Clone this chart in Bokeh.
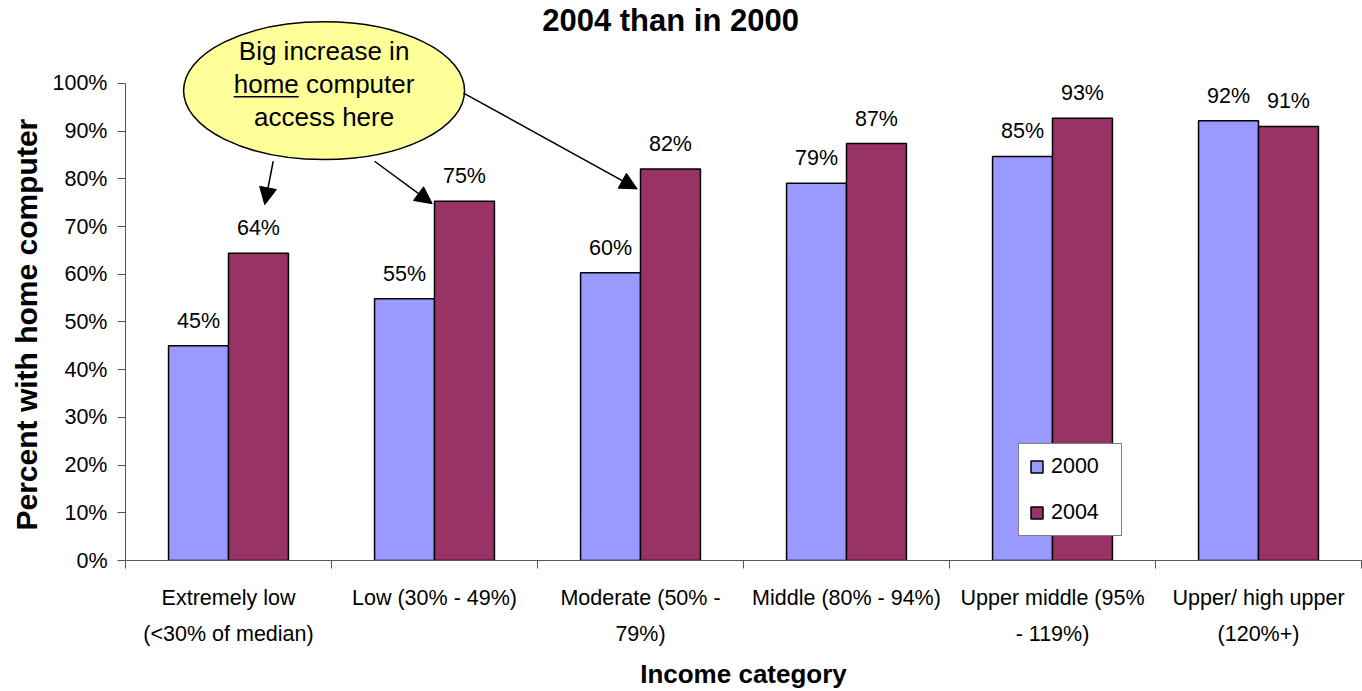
import numpy as np
from bokeh.plotting import figure
from bokeh.models import (Range1d, FixedTicker, PrintfTickFormatter, ColumnDataSource,
                          LabelSet, Label, Arrow, NormalHead, Legend, LegendItem, Title)
from bokeh.core.properties import value
from bokeh.embed import file_html
from bokeh.resources import INLINE

# ---------------- data ----------------
categories = ["Extremely low\n(<30% of median)", "Low (30% - 49%)", "Moderate (50% -\n79%)",
              "Middle (80% - 94%)", "Upper middle (95%\n- 119%)", "Upper/ high upper\n(120%+)"]
years = ["2000", "2004"]
pct_2000 = [45.0, 54.9, 60.3, 79.1, 84.7, 92.2]
pct_2004 = [64.4, 75.3, 82.1, 87.4, 92.7, 91.0]
y_ticks = [0, 10, 20, 30, 40, 50, 60, 70, 80, 90, 100]
title_text = "2004 than in 2000"
x_title = "Income category"
y_title = "Percent with home computer"
callout_lines = ["Big increase in", "home computer", "access here"]

# ---------------- style / layout ----------------
FONT = "Liberation Sans"
C2000 = "#9999FF"
C2004 = "#993366"
BAR_W = 0.291
AXIS_COLOR = "#555555"

n = len(categories)
centers = np.arange(n) + 0.5

src2000 = ColumnDataSource(dict(x=centers - BAR_W / 2, top=pct_2000,
                                label=[f"{round(v)}%" for v in pct_2000]))
src2004 = ColumnDataSource(dict(x=centers + BAR_W / 2, top=pct_2004,
                                label=[f"{round(v)}%" for v in pct_2004]))

p = figure(width=1362, height=691, x_range=Range1d(0, n), y_range=Range1d(0, 117.4),
           output_backend="svg", toolbar_location=None,
           min_border_left=125, min_border_right=1, min_border_top=0, min_border_bottom=131)
p.outline_line_color = None
p.xgrid.visible = False
p.ygrid.visible = False
p.background_fill_color = "white"

r0 = p.vbar(x="x", top="top", width=BAR_W, source=src2000, fill_color=C2000,
            line_color="black", line_width=1.5)
r1 = p.vbar(x="x", top="top", width=BAR_W, source=src2004, fill_color=C2004,
            line_color="black", line_width=1.5)

for src in (src2000, src2004):
    p.add_layout(LabelSet(x="x", y="top", text="label", source=src, text_align="center",
                          text_baseline="alphabetic", y_offset=18,
                          text_font=value(FONT), text_font_size="21.5px", text_color="black"))

# x axis
xa = p.xaxis[0]
xa.ticker = FixedTicker(ticks=list(centers), minor_ticks=list(np.arange(n + 1)))
xa.major_label_overrides = {float(c): lab for c, lab in zip(centers, categories)}
xa.major_tick_line_color = None
xa.minor_tick_out = 8
xa.minor_tick_in = 0
xa.minor_tick_line_color = AXIS_COLOR
xa.axis_line_color = AXIS_COLOR
xa.major_label_text_font = FONT
xa.major_label_text_font_size = "21.5px"
xa.major_label_text_color = "black"
xa.major_label_text_line_height = 1.5
xa.major_label_standoff = 17
xa.axis_label = x_title
xa.axis_label_text_font = FONT
xa.axis_label_text_font_style = "bold"
xa.axis_label_text_font_size = "26px"
xa.axis_label_text_color = "black"
xa.axis_label_standoff = 10

# y axis
ya = p.yaxis[0]
ya.ticker = FixedTicker(ticks=y_ticks, minor_ticks=[])
ya.formatter = PrintfTickFormatter(format="%d%%")
ya.bounds = (0, 100)
ya.major_tick_out = 8
ya.major_tick_in = 0
ya.major_tick_line_color = AXIS_COLOR
ya.axis_line_color = AXIS_COLOR
ya.major_label_text_font = FONT
ya.major_label_text_font_size = "21.5px"
ya.major_label_text_color = "black"
ya.major_label_standoff = 10

# y axis title as a side title, starting just above the bottom of the axis
p.add_layout(Title(text=y_title, align="left", offset=30, standoff=14,
                   text_font=FONT, text_font_size="30px", text_font_style="bold",
                   text_color="black"), "left")

# chart title (inside the canvas, top)
p.add_layout(Label(x=2.646, y=113.2, text=title_text, text_align="center",
                   text_baseline="alphabetic", text_font=FONT, text_font_size="31px",
                   text_font_style="bold", text_color="black"))

# callout
CX, CY, EW, EH = 0.964, 98.5, 1.364, 28.9
p.ellipse(x=[CX], y=[CY], width=[EW], height=[EH], fill_color="#FFFF99",
          line_color="black", line_width=1.5)
p.text(x=[CX] * 3, y=[106.9, 99.8, 92.9], text=callout_lines, text_align="center",
       text_baseline="middle", text_font=value(FONT), text_font_size="26px", text_color="black")
p.segment(x0=[0.525], y0=[97.2], x1=[0.841], y1=[97.2], line_color="black", line_width=1.5)

arrows = [((0.717, 83.7), (0.676, 74.6)),
          ((1.209, 83.7), (1.489, 74.8)),
          ((1.641, 98.0), (2.484, 77.9))]
for (xs, ys), (xe, ye) in arrows:
    p.add_layout(Arrow(end=NormalHead(size=17, fill_color="black", line_color="black"),
                       x_start=xs, y_start=ys, x_end=xe, y_end=ye,
                       line_color="black", line_width=1.5))

legend = Legend(items=[LegendItem(label=years[0], renderers=[r0]),
                       LegendItem(label=years[1], renderers=[r1])],
                location=(893, 24), orientation="vertical",
                label_text_font=FONT, label_text_font_size="21.5px", label_text_color="black",
                glyph_width=15, glyph_height=15, label_height=20, label_width=60,
                spacing=21, padding=10,
                label_standoff=7, border_line_color="black", border_line_width=1,
                background_fill_alpha=1.0)
p.add_layout(legend)

open("out.html", "w").write(file_html(p, INLINE))
